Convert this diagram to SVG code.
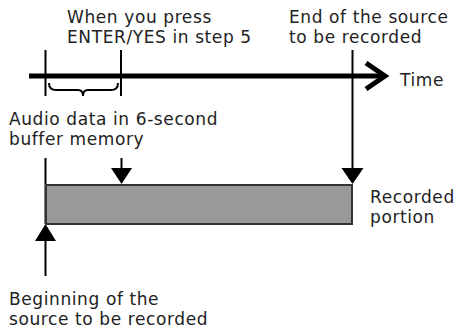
<svg xmlns="http://www.w3.org/2000/svg" width="463" height="331" viewBox="0 0 463 331">
<style>
text{font-family:"DejaVu Sans","Liberation Sans",sans-serif;font-size:17px;letter-spacing:0.6px;fill:#222}
.thin{stroke:#000;stroke-width:2;fill:none}
.thick{stroke:#000;stroke-width:5;fill:none}
.head{fill:#000;stroke:none}
</style>
<rect width="463" height="331" fill="#fff"/>
<g id="connectors">
<line class="thick" x1="29" y1="76" x2="385" y2="76"/>
<polyline class="thick" points="366,63 385,76 366,89" stroke-linejoin="miter"/>
<line class="thin" x1="45.5" y1="50" x2="45.5" y2="96"/>
<line class="thin" x1="121" y1="50" x2="121" y2="96"/>
<path class="thin" stroke-width="1.2" d="M49,83 Q49,90 56,90 L78,90 Q83,90 83,96 Q83,90 88,90 L111,90 Q118,90 118,83"/>
<line class="thin" x1="352.5" y1="50" x2="352.5" y2="170"/>
<polygon class="head" points="341.5,168 363.5,168 352.5,184"/>
<line class="thin" x1="121.5" y1="158" x2="121.5" y2="170"/>
<polygon class="head" points="111,168 132,168 121.5,184"/>
<line class="thin" x1="45.5" y1="158" x2="45.5" y2="224"/>
<polygon class="head" points="35,241 56,241 45.5,224"/>
<line class="thin" x1="45.5" y1="240" x2="45.5" y2="276"/>
</g>
<g id="recorded">
<rect x="46" y="185" width="306" height="39" fill="#999" stroke="#333" stroke-width="2"/>
<text x="370" y="203">Recorded</text>
<text x="370" y="223">portion</text>
</g>
<g id="press">
<text x="67" y="23">When you press</text>
<text x="67" y="43">ENTER/YES in step 5</text>
</g>
<g id="end">
<text x="289" y="23">End of the source</text>
<text x="289" y="43">to be recorded</text>
</g>
<g id="time"><text x="400" y="86">Time</text></g>
<g id="buffer">
<text x="9" y="125">Audio data in 6-second</text>
<text x="9" y="145">buffer memory</text>
</g>
<g id="begin">
<text x="9" y="305">Beginning of the</text>
<text x="9" y="325">source to be recorded</text>
</g>
</svg>
